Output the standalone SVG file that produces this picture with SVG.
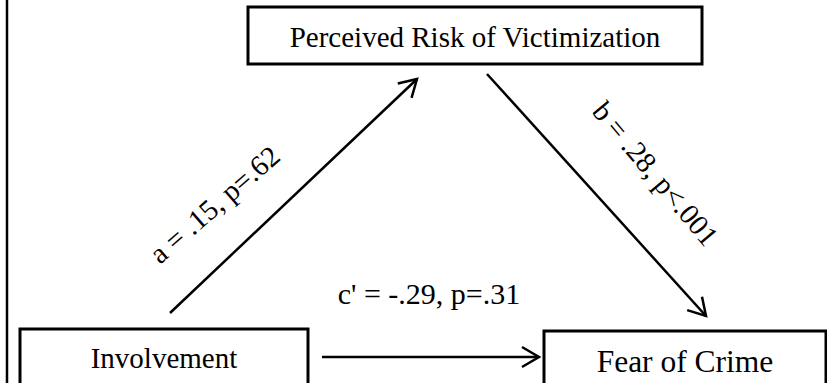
<svg xmlns="http://www.w3.org/2000/svg" width="827" height="383" viewBox="0 0 827 383">
<style>
.box{fill:#fff;stroke:#000;stroke-width:3}
.t{font-family:'Liberation Serif','Times New Roman',serif;fill:#000;text-anchor:middle}
.edge{stroke:#000;stroke-width:2.5;fill:none}
</style>
<defs>
<marker id="arr" markerUnits="userSpaceOnUse" viewBox="-20 -12 24 24" refX="0" refY="0" markerWidth="24" markerHeight="24" orient="auto">
<path d="M-17,-10 L0,0 L-17,10" fill="none" stroke="#000" stroke-width="2.5"/>
</marker>
</defs>
<rect width="827" height="383" fill="#fff"/>
<line x1="7" y1="0" x2="7" y2="383" stroke="#000" stroke-width="2.5"/>
<g id="node-risk">
<rect class="box" x="248" y="7" width="454" height="57"/>
<text class="t" font-family="Liberation Serif, serif" x="475" y="47" font-size="29">Perceived Risk of Victimization</text>
</g>
<g id="node-involvement">
<rect class="box" x="20" y="329" width="288" height="70"/>
<text class="t" font-family="Liberation Serif, serif" x="164" y="368" font-size="29">Involvement</text>
</g>
<g id="node-fear">
<rect class="box" x="544" y="331" width="282" height="70"/>
<text class="t" font-family="Liberation Serif, serif" x="685" y="372" font-size="31.5">Fear of Crime</text>
</g>
<g id="connectors">
<line class="edge" x1="170" y1="313" x2="417" y2="79" marker-end="url(#arr)"/>
<line class="edge" x1="487" y1="74" x2="706" y2="316" marker-end="url(#arr)"/>
<line class="edge" x1="322" y1="357" x2="539" y2="357" marker-end="url(#arr)"/>
<text class="t" font-family="Liberation Serif, serif" font-size="29" transform="translate(221 212) rotate(-41)">a = .15, p=.62</text>
<text class="t" font-family="Liberation Serif, serif" font-size="29" transform="translate(648 180) rotate(50)">b = .28, p&lt;.001</text>
<text class="t" font-family="Liberation Serif, serif" x="429" y="304" font-size="30">c' = -.29, p=.31</text>
</g>
</svg>
